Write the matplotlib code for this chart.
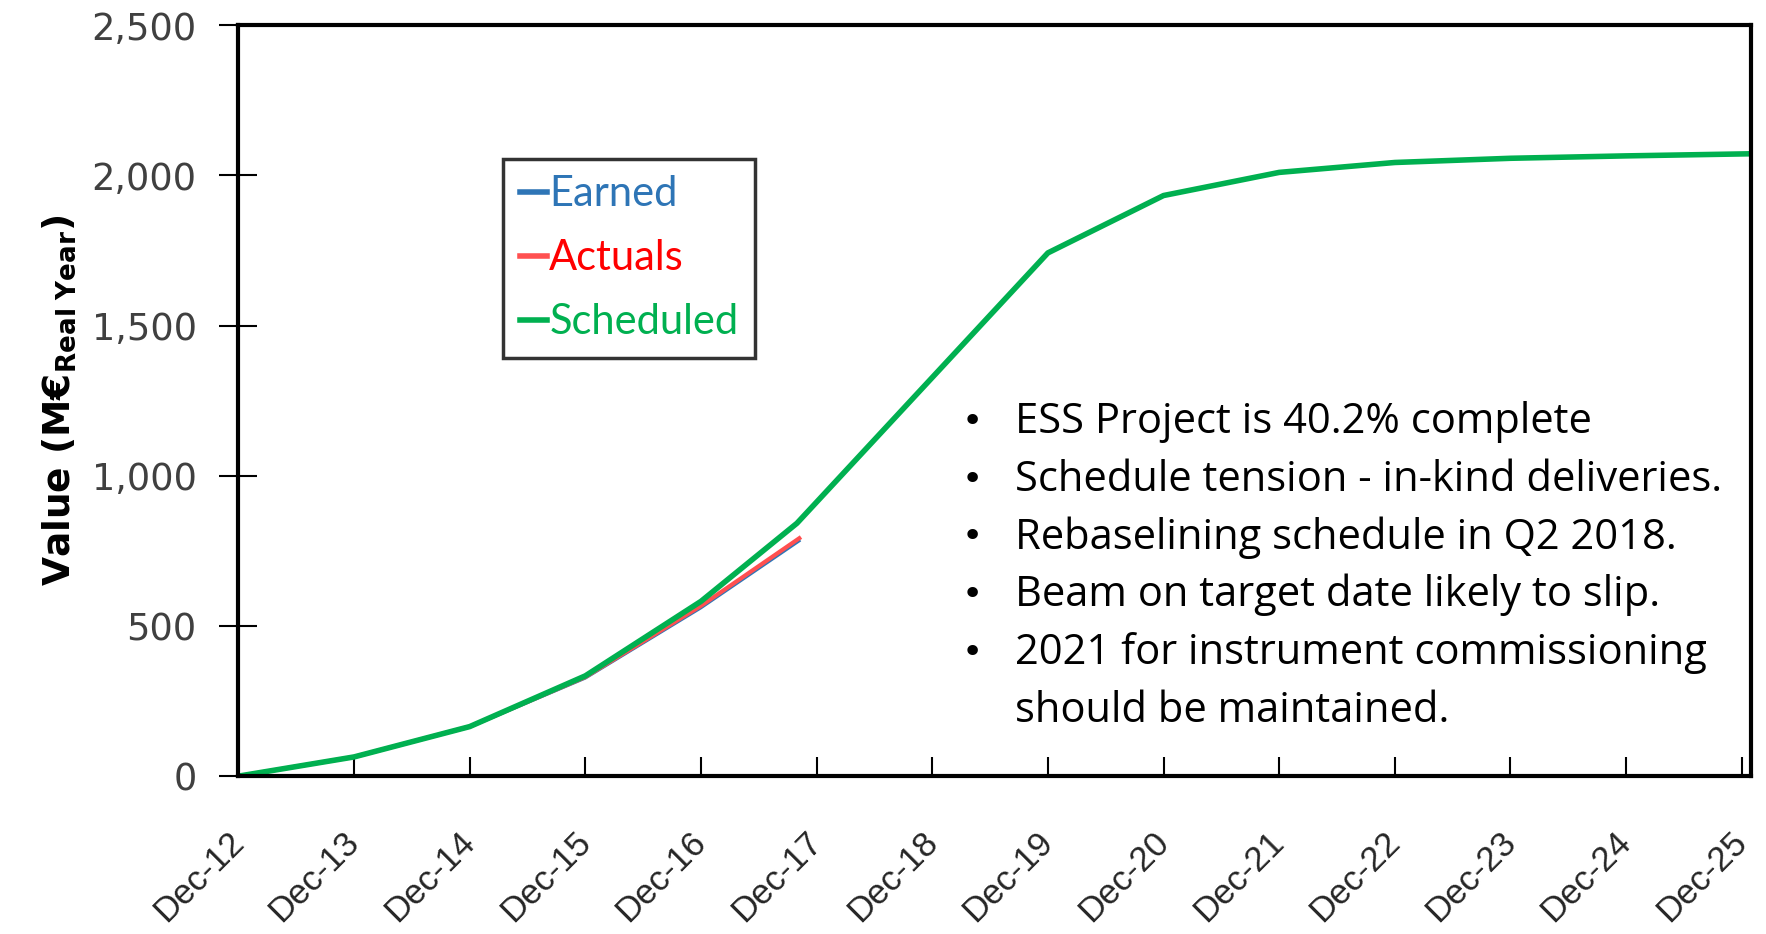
import matplotlib
matplotlib.use("Agg")
import matplotlib.pyplot as plt

# Tick labels (one per year, December)
years = ["Dec-12", "Dec-13", "Dec-14", "Dec-15", "Dec-16", "Dec-17", "Dec-18",
         "Dec-19", "Dec-20", "Dec-21", "Dec-22", "Dec-23", "Dec-24", "Dec-25"]

# Scheduled (planned value), M EUR; x in years since Dec-12
sched_x = [0, 1, 2, 3, 4, 4.83, 7, 8, 9, 10, 11, 12, 13.08]
sched_y = [0, 64, 165, 334, 582, 842, 1742, 1933, 2010, 2043, 2057, 2065, 2072]

# Actuals and Earned stop at Nov-17
act_x = [0, 1, 2, 3, 4, 4.85]
act_y = [0, 64, 165, 330, 567, 792]
earn_x = [0, 1, 2, 3, 4, 4.85]
earn_y = [0, 63, 163, 326, 560, 783]

bullets = ["ESS Project is 40.2% complete",
           "Schedule tension - in-kind deliveries.",
           "Rebaselining schedule in Q2 2018.",
           "Beam on target date likely to slip.",
           "2021 for instrument commissioning",
           "should be maintained."]

fig = plt.figure(figsize=(17.66, 9.34), dpi=100)
ax = fig.add_axes([0.135, 0.169, 0.8565, 0.804])

ax.plot(earn_x, earn_y, color="#2E75B6", lw=2, label="Earned")
ax.plot(act_x, act_y, color="#FF5050", lw=3, label="Actuals")
ax.plot(sched_x, sched_y, color="#00B050", lw=4, label="Scheduled")

ax.set_xlim(0, 13.08)
ax.set_ylim(0, 2500)
ax.set_xticks(range(len(years)))
ax.set_xticklabels(years, rotation=45, ha="right", va="center",
                   rotation_mode="anchor", fontsize=25, color="#262626",
                   family=["Liberation Sans", "DejaVu Sans"])
ax.set_yticks([0, 500, 1000, 1500, 2000, 2500])
ax.set_yticklabels(["0", "500", "1,000", "1,500", "2,000", "2,500"],
                   fontsize=26.5, color="#404040")
ax.tick_params(axis="y", direction="inout", length=28, width=1.5, pad=16)
ax.tick_params(axis="x", direction="in", length=14, width=1.5, pad=44)
for s in ax.spines.values():
    s.set_linewidth(3)
    s.set_color("black")

ax.set_ylabel(r"Value (M€$_{\mathbf{Real\ Year}}$)", fontsize=27, fontweight="bold",
              family=["Liberation Sans Narrow", "DejaVu Sans"], labelpad=10)

leg = ax.legend(loc="upper left", bbox_to_anchor=(0.285, 0.830),
                bbox_transform=fig.transFigure, borderaxespad=0,
                handlelength=0.65, handletextpad=0.05, fancybox=False,
                edgecolor="black", prop={"family": ["Lato", "DejaVu Sans"], "size": 30},
                borderpad=0.4, labelspacing=0.62)
leg.get_frame().set_linewidth(2.5)
for t, h, c in zip(leg.get_texts(), leg.legend_handles, ["#2E75B6", "#FF0000", "#00B050"]):
    t.set_color(c)
    h.set_linewidth(4)

y0 = 1 - 422 / 934
for i, line in enumerate(bullets):
    y = y0 - i * 0.0618
    if i < 5:
        fig.text(0.5445, y, "•", fontsize=26, va="center", family="DejaVu Sans")
    fig.text(0.575, y, line, fontsize=30, va="center", family="Open Sans")

fig.savefig("out.png", dpi=100)
